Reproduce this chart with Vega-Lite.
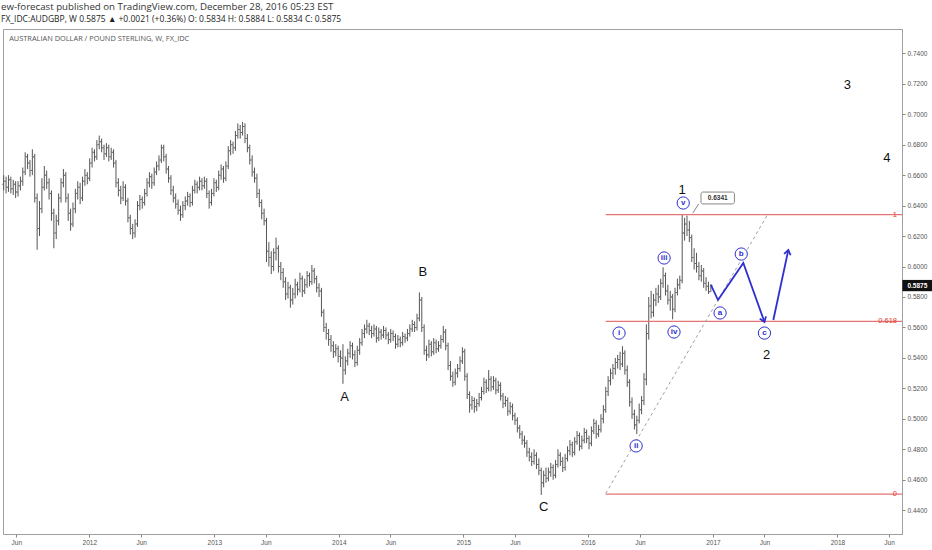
{
  "$schema": "https://vega.github.io/schema/vega-lite/v6.json",
  "width": 899,
  "height": 505,
  "autosize": {"type": "none"},
  "padding": {"left": 3, "top": 29, "right": 30, "bottom": 16},
  "background": "white",
  "title": {
    "text": "ew-forecast published on TradingView.com, December 28, 2016 05:23 EST",
    "subtitle": "FX_IDC:AUDGBP, W  0.5875 ▲ +0.0021 (+0.36%)  O: 0.5834  H: 0.5884  L: 0.5834  C: 0.5875",
    "anchor": "start",
    "frame": "group",
    "font": "Open Sans",
    "fontSize": 9.7,
    "fontWeight": "normal",
    "color": "#333333",
    "subtitleFont": "Open Sans",
    "subtitleFontSize": 8.5,
    "subtitleColor": "#222222",
    "subtitlePadding": 3,
    "offset": 6,
    "dx": -2
  },
  "config": {
    "view": {"stroke": "#a0a0a0"},
    "font": "Liberation Sans",
    "axis": {"labelOverlap": false, "labelFlush": false, "grid": false}
  },
  "datasets": {
    "bars": [
      {"d": "2011-04-25", "o": 0.654, "h": 0.660, "l": 0.650, "c": 0.656},
      {"d": "2011-05-02", "o": 0.656, "h": 0.659, "l": 0.648, "c": 0.652},
      {"d": "2011-05-09", "o": 0.652, "h": 0.660, "l": 0.649, "c": 0.657},
      {"d": "2011-05-16", "o": 0.657, "h": 0.659, "l": 0.648, "c": 0.651},
      {"d": "2011-05-23", "o": 0.651, "h": 0.657, "l": 0.647, "c": 0.654},
      {"d": "2011-05-30", "o": 0.654, "h": 0.656, "l": 0.645, "c": 0.649},
      {"d": "2011-06-06", "o": 0.649, "h": 0.656, "l": 0.646, "c": 0.653},
      {"d": "2011-06-13", "o": 0.653, "h": 0.659, "l": 0.650, "c": 0.656},
      {"d": "2011-06-20", "o": 0.656, "h": 0.665, "l": 0.653, "c": 0.662},
      {"d": "2011-06-27", "o": 0.662, "h": 0.675, "l": 0.660, "c": 0.672},
      {"d": "2011-07-04", "o": 0.672, "h": 0.674, "l": 0.664, "c": 0.668},
      {"d": "2011-07-11", "o": 0.668, "h": 0.670, "l": 0.659, "c": 0.663},
      {"d": "2011-07-18", "o": 0.663, "h": 0.677, "l": 0.660, "c": 0.672},
      {"d": "2011-07-25", "o": 0.672, "h": 0.674, "l": 0.642, "c": 0.645},
      {"d": "2011-08-01", "o": 0.645, "h": 0.648, "l": 0.611, "c": 0.625},
      {"d": "2011-08-08", "o": 0.625, "h": 0.643, "l": 0.620, "c": 0.638},
      {"d": "2011-08-15", "o": 0.638, "h": 0.658, "l": 0.635, "c": 0.652},
      {"d": "2011-08-22", "o": 0.652, "h": 0.666, "l": 0.650, "c": 0.660},
      {"d": "2011-08-29", "o": 0.660, "h": 0.663, "l": 0.651, "c": 0.655},
      {"d": "2011-09-05", "o": 0.655, "h": 0.658, "l": 0.644, "c": 0.648},
      {"d": "2011-09-12", "o": 0.648, "h": 0.650, "l": 0.630, "c": 0.635},
      {"d": "2011-09-19", "o": 0.635, "h": 0.638, "l": 0.612, "c": 0.622},
      {"d": "2011-09-26", "o": 0.622, "h": 0.634, "l": 0.618, "c": 0.630},
      {"d": "2011-10-03", "o": 0.630, "h": 0.648, "l": 0.627, "c": 0.645},
      {"d": "2011-10-10", "o": 0.645, "h": 0.658, "l": 0.642, "c": 0.655},
      {"d": "2011-10-17", "o": 0.655, "h": 0.664, "l": 0.652, "c": 0.660},
      {"d": "2011-10-24", "o": 0.660, "h": 0.662, "l": 0.642, "c": 0.645},
      {"d": "2011-10-31", "o": 0.645, "h": 0.648, "l": 0.630, "c": 0.635},
      {"d": "2011-11-07", "o": 0.635, "h": 0.638, "l": 0.6235, "c": 0.628},
      {"d": "2011-11-14", "o": 0.628, "h": 0.642, "l": 0.626, "c": 0.638},
      {"d": "2011-11-21", "o": 0.638, "h": 0.651, "l": 0.635, "c": 0.648},
      {"d": "2011-11-28", "o": 0.648, "h": 0.656, "l": 0.644, "c": 0.652},
      {"d": "2011-12-05", "o": 0.652, "h": 0.655, "l": 0.641, "c": 0.645},
      {"d": "2011-12-12", "o": 0.645, "h": 0.659, "l": 0.643, "c": 0.656},
      {"d": "2011-12-19", "o": 0.656, "h": 0.664, "l": 0.653, "c": 0.660},
      {"d": "2011-12-26", "o": 0.660, "h": 0.662, "l": 0.654, "c": 0.658},
      {"d": "2012-01-02", "o": 0.658, "h": 0.671, "l": 0.656, "c": 0.668},
      {"d": "2012-01-09", "o": 0.668, "h": 0.678, "l": 0.665, "c": 0.675},
      {"d": "2012-01-16", "o": 0.675, "h": 0.677, "l": 0.669, "c": 0.672},
      {"d": "2012-01-23", "o": 0.672, "h": 0.683, "l": 0.670, "c": 0.680},
      {"d": "2012-01-30", "o": 0.680, "h": 0.686, "l": 0.677, "c": 0.682},
      {"d": "2012-02-06", "o": 0.682, "h": 0.684, "l": 0.675, "c": 0.678},
      {"d": "2012-02-13", "o": 0.678, "h": 0.680, "l": 0.670, "c": 0.674},
      {"d": "2012-02-20", "o": 0.674, "h": 0.681, "l": 0.672, "c": 0.678},
      {"d": "2012-02-27", "o": 0.678, "h": 0.680, "l": 0.669, "c": 0.672},
      {"d": "2012-03-05", "o": 0.672, "h": 0.678, "l": 0.670, "c": 0.675},
      {"d": "2012-03-12", "o": 0.675, "h": 0.677, "l": 0.665, "c": 0.668},
      {"d": "2012-03-19", "o": 0.668, "h": 0.670, "l": 0.652, "c": 0.655},
      {"d": "2012-03-26", "o": 0.655, "h": 0.658, "l": 0.646, "c": 0.650},
      {"d": "2012-04-02", "o": 0.650, "h": 0.653, "l": 0.641, "c": 0.645},
      {"d": "2012-04-09", "o": 0.645, "h": 0.656, "l": 0.643, "c": 0.652},
      {"d": "2012-04-16", "o": 0.652, "h": 0.654, "l": 0.640, "c": 0.643},
      {"d": "2012-04-23", "o": 0.643, "h": 0.645, "l": 0.629, "c": 0.632},
      {"d": "2012-04-30", "o": 0.632, "h": 0.634, "l": 0.621, "c": 0.625},
      {"d": "2012-05-07", "o": 0.625, "h": 0.628, "l": 0.618, "c": 0.622},
      {"d": "2012-05-14", "o": 0.622, "h": 0.631, "l": 0.619, "c": 0.628},
      {"d": "2012-05-21", "o": 0.628, "h": 0.643, "l": 0.626, "c": 0.640},
      {"d": "2012-05-28", "o": 0.640, "h": 0.647, "l": 0.637, "c": 0.644},
      {"d": "2012-06-04", "o": 0.644, "h": 0.646, "l": 0.638, "c": 0.642},
      {"d": "2012-06-11", "o": 0.642, "h": 0.651, "l": 0.640, "c": 0.648},
      {"d": "2012-06-18", "o": 0.648, "h": 0.658, "l": 0.646, "c": 0.655},
      {"d": "2012-06-25", "o": 0.655, "h": 0.662, "l": 0.652, "c": 0.659},
      {"d": "2012-07-02", "o": 0.659, "h": 0.661, "l": 0.651, "c": 0.655},
      {"d": "2012-07-09", "o": 0.655, "h": 0.665, "l": 0.653, "c": 0.662},
      {"d": "2012-07-16", "o": 0.662, "h": 0.669, "l": 0.660, "c": 0.666},
      {"d": "2012-07-23", "o": 0.666, "h": 0.673, "l": 0.663, "c": 0.670},
      {"d": "2012-07-30", "o": 0.670, "h": 0.680, "l": 0.668, "c": 0.678},
      {"d": "2012-08-06", "o": 0.678, "h": 0.680, "l": 0.669, "c": 0.672},
      {"d": "2012-08-13", "o": 0.672, "h": 0.674, "l": 0.661, "c": 0.664},
      {"d": "2012-08-20", "o": 0.664, "h": 0.666, "l": 0.655, "c": 0.658},
      {"d": "2012-08-27", "o": 0.658, "h": 0.660, "l": 0.647, "c": 0.650},
      {"d": "2012-09-03", "o": 0.650, "h": 0.653, "l": 0.642, "c": 0.645},
      {"d": "2012-09-10", "o": 0.645, "h": 0.648, "l": 0.638, "c": 0.641},
      {"d": "2012-09-17", "o": 0.641, "h": 0.644, "l": 0.634, "c": 0.637},
      {"d": "2012-09-24", "o": 0.637, "h": 0.640, "l": 0.630, "c": 0.634},
      {"d": "2012-10-01", "o": 0.634, "h": 0.643, "l": 0.632, "c": 0.640},
      {"d": "2012-10-08", "o": 0.640, "h": 0.646, "l": 0.637, "c": 0.643},
      {"d": "2012-10-15", "o": 0.643, "h": 0.649, "l": 0.640, "c": 0.646},
      {"d": "2012-10-22", "o": 0.646, "h": 0.648, "l": 0.639, "c": 0.642},
      {"d": "2012-10-29", "o": 0.642, "h": 0.653, "l": 0.640, "c": 0.650},
      {"d": "2012-11-05", "o": 0.650, "h": 0.657, "l": 0.648, "c": 0.654},
      {"d": "2012-11-12", "o": 0.654, "h": 0.656, "l": 0.648, "c": 0.652},
      {"d": "2012-11-19", "o": 0.652, "h": 0.659, "l": 0.650, "c": 0.656},
      {"d": "2012-11-26", "o": 0.656, "h": 0.658, "l": 0.650, "c": 0.653},
      {"d": "2012-12-03", "o": 0.653, "h": 0.659, "l": 0.651, "c": 0.656},
      {"d": "2012-12-10", "o": 0.656, "h": 0.658, "l": 0.645, "c": 0.648},
      {"d": "2012-12-17", "o": 0.648, "h": 0.650, "l": 0.638, "c": 0.642},
      {"d": "2012-12-24", "o": 0.642, "h": 0.651, "l": 0.640, "c": 0.648},
      {"d": "2012-12-31", "o": 0.648, "h": 0.658, "l": 0.646, "c": 0.655},
      {"d": "2013-01-07", "o": 0.655, "h": 0.657, "l": 0.649, "c": 0.652},
      {"d": "2013-01-14", "o": 0.652, "h": 0.663, "l": 0.650, "c": 0.660},
      {"d": "2013-01-21", "o": 0.660, "h": 0.667, "l": 0.657, "c": 0.664},
      {"d": "2013-01-28", "o": 0.664, "h": 0.666, "l": 0.655, "c": 0.658},
      {"d": "2013-02-04", "o": 0.658, "h": 0.669, "l": 0.656, "c": 0.666},
      {"d": "2013-02-11", "o": 0.666, "h": 0.679, "l": 0.664, "c": 0.676},
      {"d": "2013-02-18", "o": 0.676, "h": 0.683, "l": 0.673, "c": 0.680},
      {"d": "2013-02-25", "o": 0.680, "h": 0.682, "l": 0.674, "c": 0.678},
      {"d": "2013-03-04", "o": 0.678, "h": 0.689, "l": 0.676, "c": 0.686},
      {"d": "2013-03-11", "o": 0.686, "h": 0.694, "l": 0.684, "c": 0.690},
      {"d": "2013-03-18", "o": 0.690, "h": 0.693, "l": 0.684, "c": 0.688},
      {"d": "2013-03-25", "o": 0.688, "h": 0.695, "l": 0.686, "c": 0.692},
      {"d": "2013-04-01", "o": 0.692, "h": 0.694, "l": 0.681, "c": 0.684},
      {"d": "2013-04-08", "o": 0.684, "h": 0.687, "l": 0.675, "c": 0.678},
      {"d": "2013-04-15", "o": 0.678, "h": 0.680, "l": 0.667, "c": 0.670},
      {"d": "2013-04-22", "o": 0.670, "h": 0.673, "l": 0.659, "c": 0.662},
      {"d": "2013-04-29", "o": 0.662, "h": 0.665, "l": 0.655, "c": 0.658},
      {"d": "2013-05-06", "o": 0.658, "h": 0.661, "l": 0.645, "c": 0.648},
      {"d": "2013-05-13", "o": 0.648, "h": 0.651, "l": 0.639, "c": 0.642},
      {"d": "2013-05-20", "o": 0.642, "h": 0.644, "l": 0.631, "c": 0.635},
      {"d": "2013-05-27", "o": 0.635, "h": 0.638, "l": 0.627, "c": 0.630},
      {"d": "2013-06-03", "o": 0.630, "h": 0.632, "l": 0.603, "c": 0.610},
      {"d": "2013-06-10", "o": 0.610, "h": 0.616, "l": 0.600, "c": 0.606},
      {"d": "2013-06-17", "o": 0.606, "h": 0.610, "l": 0.595, "c": 0.600},
      {"d": "2013-06-24", "o": 0.600, "h": 0.612, "l": 0.597, "c": 0.609},
      {"d": "2013-07-01", "o": 0.609, "h": 0.619, "l": 0.604, "c": 0.612},
      {"d": "2013-07-08", "o": 0.612, "h": 0.614, "l": 0.596, "c": 0.600},
      {"d": "2013-07-15", "o": 0.600, "h": 0.603, "l": 0.591, "c": 0.596},
      {"d": "2013-07-22", "o": 0.596, "h": 0.599, "l": 0.586, "c": 0.590},
      {"d": "2013-07-29", "o": 0.590, "h": 0.593, "l": 0.578, "c": 0.582},
      {"d": "2013-08-05", "o": 0.582, "h": 0.590, "l": 0.579, "c": 0.586},
      {"d": "2013-08-12", "o": 0.586, "h": 0.588, "l": 0.573, "c": 0.578},
      {"d": "2013-08-19", "o": 0.578, "h": 0.586, "l": 0.575, "c": 0.582},
      {"d": "2013-08-26", "o": 0.582, "h": 0.592, "l": 0.579, "c": 0.588},
      {"d": "2013-09-02", "o": 0.588, "h": 0.590, "l": 0.581, "c": 0.585},
      {"d": "2013-09-09", "o": 0.585, "h": 0.596, "l": 0.583, "c": 0.592},
      {"d": "2013-09-16", "o": 0.592, "h": 0.594, "l": 0.580, "c": 0.584},
      {"d": "2013-09-23", "o": 0.584, "h": 0.592, "l": 0.582, "c": 0.588},
      {"d": "2013-09-30", "o": 0.588, "h": 0.597, "l": 0.586, "c": 0.594},
      {"d": "2013-10-07", "o": 0.594, "h": 0.596, "l": 0.587, "c": 0.590},
      {"d": "2013-10-14", "o": 0.590, "h": 0.601, "l": 0.588, "c": 0.597},
      {"d": "2013-10-21", "o": 0.597, "h": 0.599, "l": 0.589, "c": 0.592},
      {"d": "2013-10-28", "o": 0.592, "h": 0.594, "l": 0.583, "c": 0.586},
      {"d": "2013-11-04", "o": 0.586, "h": 0.589, "l": 0.580, "c": 0.584},
      {"d": "2013-11-11", "o": 0.584, "h": 0.586, "l": 0.567, "c": 0.570},
      {"d": "2013-11-18", "o": 0.570, "h": 0.572, "l": 0.557, "c": 0.560},
      {"d": "2013-11-25", "o": 0.560, "h": 0.563, "l": 0.552, "c": 0.556},
      {"d": "2013-12-02", "o": 0.556, "h": 0.559, "l": 0.548, "c": 0.552},
      {"d": "2013-12-09", "o": 0.552, "h": 0.555, "l": 0.544, "c": 0.548},
      {"d": "2013-12-16", "o": 0.548, "h": 0.551, "l": 0.540, "c": 0.544},
      {"d": "2013-12-23", "o": 0.544, "h": 0.549, "l": 0.541, "c": 0.546},
      {"d": "2013-12-30", "o": 0.546, "h": 0.548, "l": 0.537, "c": 0.541},
      {"d": "2014-01-06", "o": 0.541, "h": 0.545, "l": 0.534, "c": 0.540},
      {"d": "2014-01-13", "o": 0.540, "h": 0.549, "l": 0.523, "c": 0.532},
      {"d": "2014-01-20", "o": 0.532, "h": 0.541, "l": 0.529, "c": 0.538},
      {"d": "2014-01-27", "o": 0.538, "h": 0.546, "l": 0.535, "c": 0.543},
      {"d": "2014-02-03", "o": 0.543, "h": 0.551, "l": 0.540, "c": 0.548},
      {"d": "2014-02-10", "o": 0.548, "h": 0.550, "l": 0.539, "c": 0.542},
      {"d": "2014-02-17", "o": 0.542, "h": 0.545, "l": 0.534, "c": 0.537},
      {"d": "2014-02-24", "o": 0.537, "h": 0.548, "l": 0.535, "c": 0.545},
      {"d": "2014-03-03", "o": 0.545, "h": 0.553, "l": 0.542, "c": 0.550},
      {"d": "2014-03-10", "o": 0.550, "h": 0.559, "l": 0.548, "c": 0.556},
      {"d": "2014-03-17", "o": 0.556, "h": 0.562, "l": 0.553, "c": 0.559},
      {"d": "2014-03-24", "o": 0.559, "h": 0.565, "l": 0.556, "c": 0.561},
      {"d": "2014-03-31", "o": 0.561, "h": 0.563, "l": 0.555, "c": 0.558},
      {"d": "2014-04-07", "o": 0.558, "h": 0.561, "l": 0.553, "c": 0.556},
      {"d": "2014-04-14", "o": 0.556, "h": 0.562, "l": 0.554, "c": 0.559},
      {"d": "2014-04-21", "o": 0.559, "h": 0.561, "l": 0.550, "c": 0.553},
      {"d": "2014-04-28", "o": 0.553, "h": 0.560, "l": 0.551, "c": 0.557},
      {"d": "2014-05-05", "o": 0.557, "h": 0.559, "l": 0.552, "c": 0.555},
      {"d": "2014-05-12", "o": 0.555, "h": 0.561, "l": 0.553, "c": 0.558},
      {"d": "2014-05-19", "o": 0.558, "h": 0.560, "l": 0.552, "c": 0.555},
      {"d": "2014-05-26", "o": 0.555, "h": 0.557, "l": 0.549, "c": 0.552},
      {"d": "2014-06-02", "o": 0.552, "h": 0.559, "l": 0.550, "c": 0.556},
      {"d": "2014-06-09", "o": 0.556, "h": 0.558, "l": 0.551, "c": 0.554},
      {"d": "2014-06-16", "o": 0.554, "h": 0.556, "l": 0.546, "c": 0.549},
      {"d": "2014-06-23", "o": 0.549, "h": 0.555, "l": 0.547, "c": 0.552},
      {"d": "2014-06-30", "o": 0.552, "h": 0.554, "l": 0.547, "c": 0.550},
      {"d": "2014-07-07", "o": 0.550, "h": 0.557, "l": 0.548, "c": 0.554},
      {"d": "2014-07-14", "o": 0.554, "h": 0.556, "l": 0.550, "c": 0.553},
      {"d": "2014-07-21", "o": 0.553, "h": 0.559, "l": 0.551, "c": 0.556},
      {"d": "2014-07-28", "o": 0.556, "h": 0.562, "l": 0.554, "c": 0.559},
      {"d": "2014-08-04", "o": 0.559, "h": 0.565, "l": 0.557, "c": 0.562},
      {"d": "2014-08-11", "o": 0.562, "h": 0.564, "l": 0.557, "c": 0.560},
      {"d": "2014-08-18", "o": 0.560, "h": 0.569, "l": 0.558, "c": 0.566},
      {"d": "2014-08-25", "o": 0.566, "h": 0.583, "l": 0.564, "c": 0.578},
      {"d": "2014-09-01", "o": 0.578, "h": 0.580, "l": 0.557, "c": 0.560},
      {"d": "2014-09-08", "o": 0.560, "h": 0.562, "l": 0.542, "c": 0.545},
      {"d": "2014-09-15", "o": 0.545, "h": 0.548, "l": 0.538, "c": 0.542},
      {"d": "2014-09-22", "o": 0.542, "h": 0.552, "l": 0.540, "c": 0.549},
      {"d": "2014-09-29", "o": 0.549, "h": 0.551, "l": 0.541, "c": 0.544},
      {"d": "2014-10-06", "o": 0.544, "h": 0.553, "l": 0.542, "c": 0.550},
      {"d": "2014-10-13", "o": 0.550, "h": 0.552, "l": 0.543, "c": 0.546},
      {"d": "2014-10-20", "o": 0.546, "h": 0.551, "l": 0.544, "c": 0.548},
      {"d": "2014-10-27", "o": 0.548, "h": 0.555, "l": 0.546, "c": 0.552},
      {"d": "2014-11-03", "o": 0.552, "h": 0.561, "l": 0.550, "c": 0.557},
      {"d": "2014-11-10", "o": 0.557, "h": 0.559, "l": 0.545, "c": 0.548},
      {"d": "2014-11-17", "o": 0.548, "h": 0.550, "l": 0.532, "c": 0.535},
      {"d": "2014-11-24", "o": 0.535, "h": 0.538, "l": 0.525, "c": 0.528},
      {"d": "2014-12-01", "o": 0.528, "h": 0.531, "l": 0.521, "c": 0.524},
      {"d": "2014-12-08", "o": 0.524, "h": 0.533, "l": 0.522, "c": 0.530},
      {"d": "2014-12-15", "o": 0.530, "h": 0.536, "l": 0.527, "c": 0.533},
      {"d": "2014-12-22", "o": 0.533, "h": 0.541, "l": 0.531, "c": 0.538},
      {"d": "2014-12-29", "o": 0.538, "h": 0.547, "l": 0.536, "c": 0.544},
      {"d": "2015-01-05", "o": 0.544, "h": 0.546, "l": 0.525, "c": 0.528},
      {"d": "2015-01-12", "o": 0.528, "h": 0.530, "l": 0.513, "c": 0.516},
      {"d": "2015-01-19", "o": 0.516, "h": 0.518, "l": 0.504, "c": 0.509},
      {"d": "2015-01-26", "o": 0.509, "h": 0.515, "l": 0.506, "c": 0.512},
      {"d": "2015-02-02", "o": 0.512, "h": 0.514, "l": 0.504, "c": 0.508},
      {"d": "2015-02-09", "o": 0.508, "h": 0.513, "l": 0.505, "c": 0.510},
      {"d": "2015-02-16", "o": 0.510, "h": 0.517, "l": 0.508, "c": 0.514},
      {"d": "2015-02-23", "o": 0.514, "h": 0.521, "l": 0.512, "c": 0.518},
      {"d": "2015-03-02", "o": 0.518, "h": 0.527, "l": 0.516, "c": 0.524},
      {"d": "2015-03-09", "o": 0.524, "h": 0.526, "l": 0.517, "c": 0.520},
      {"d": "2015-03-16", "o": 0.520, "h": 0.532, "l": 0.518, "c": 0.526},
      {"d": "2015-03-23", "o": 0.526, "h": 0.528, "l": 0.518, "c": 0.521},
      {"d": "2015-03-30", "o": 0.521, "h": 0.528, "l": 0.519, "c": 0.525},
      {"d": "2015-04-06", "o": 0.525, "h": 0.527, "l": 0.516, "c": 0.519},
      {"d": "2015-04-13", "o": 0.519, "h": 0.525, "l": 0.517, "c": 0.522},
      {"d": "2015-04-20", "o": 0.522, "h": 0.524, "l": 0.512, "c": 0.515},
      {"d": "2015-04-27", "o": 0.515, "h": 0.517, "l": 0.507, "c": 0.510},
      {"d": "2015-05-04", "o": 0.510, "h": 0.515, "l": 0.508, "c": 0.512},
      {"d": "2015-05-11", "o": 0.512, "h": 0.514, "l": 0.502, "c": 0.505},
      {"d": "2015-05-18", "o": 0.505, "h": 0.511, "l": 0.503, "c": 0.508},
      {"d": "2015-05-25", "o": 0.508, "h": 0.510, "l": 0.499, "c": 0.502},
      {"d": "2015-06-01", "o": 0.502, "h": 0.504, "l": 0.496, "c": 0.499},
      {"d": "2015-06-08", "o": 0.499, "h": 0.501, "l": 0.491, "c": 0.494},
      {"d": "2015-06-15", "o": 0.494, "h": 0.496, "l": 0.487, "c": 0.490},
      {"d": "2015-06-22", "o": 0.490, "h": 0.492, "l": 0.483, "c": 0.486},
      {"d": "2015-06-29", "o": 0.486, "h": 0.489, "l": 0.481, "c": 0.484},
      {"d": "2015-07-06", "o": 0.484, "h": 0.486, "l": 0.475, "c": 0.478},
      {"d": "2015-07-13", "o": 0.478, "h": 0.481, "l": 0.472, "c": 0.475},
      {"d": "2015-07-20", "o": 0.475, "h": 0.478, "l": 0.469, "c": 0.472},
      {"d": "2015-07-27", "o": 0.472, "h": 0.480, "l": 0.470, "c": 0.476},
      {"d": "2015-08-03", "o": 0.476, "h": 0.478, "l": 0.467, "c": 0.470},
      {"d": "2015-08-10", "o": 0.470, "h": 0.474, "l": 0.463, "c": 0.466},
      {"d": "2015-08-17", "o": 0.466, "h": 0.468, "l": 0.450, "c": 0.458},
      {"d": "2015-08-24", "o": 0.458, "h": 0.466, "l": 0.455, "c": 0.463},
      {"d": "2015-08-31", "o": 0.463, "h": 0.468, "l": 0.458, "c": 0.461},
      {"d": "2015-09-07", "o": 0.461, "h": 0.468, "l": 0.459, "c": 0.465},
      {"d": "2015-09-14", "o": 0.465, "h": 0.471, "l": 0.462, "c": 0.468},
      {"d": "2015-09-21", "o": 0.468, "h": 0.470, "l": 0.460, "c": 0.463},
      {"d": "2015-09-28", "o": 0.463, "h": 0.473, "l": 0.461, "c": 0.470},
      {"d": "2015-10-05", "o": 0.470, "h": 0.480, "l": 0.468, "c": 0.476},
      {"d": "2015-10-12", "o": 0.476, "h": 0.478, "l": 0.469, "c": 0.472},
      {"d": "2015-10-19", "o": 0.472, "h": 0.475, "l": 0.465, "c": 0.468},
      {"d": "2015-10-26", "o": 0.468, "h": 0.477, "l": 0.466, "c": 0.474},
      {"d": "2015-11-02", "o": 0.474, "h": 0.482, "l": 0.472, "c": 0.479},
      {"d": "2015-11-09", "o": 0.479, "h": 0.486, "l": 0.476, "c": 0.483},
      {"d": "2015-11-16", "o": 0.483, "h": 0.485, "l": 0.475, "c": 0.478},
      {"d": "2015-11-23", "o": 0.478, "h": 0.488, "l": 0.476, "c": 0.485},
      {"d": "2015-11-30", "o": 0.485, "h": 0.492, "l": 0.483, "c": 0.489},
      {"d": "2015-12-07", "o": 0.489, "h": 0.491, "l": 0.479, "c": 0.482},
      {"d": "2015-12-14", "o": 0.482, "h": 0.489, "l": 0.480, "c": 0.486},
      {"d": "2015-12-21", "o": 0.486, "h": 0.494, "l": 0.484, "c": 0.491},
      {"d": "2015-12-28", "o": 0.491, "h": 0.493, "l": 0.484, "c": 0.487},
      {"d": "2016-01-04", "o": 0.487, "h": 0.489, "l": 0.480, "c": 0.484},
      {"d": "2016-01-11", "o": 0.484, "h": 0.495, "l": 0.482, "c": 0.492},
      {"d": "2016-01-18", "o": 0.492, "h": 0.500, "l": 0.490, "c": 0.497},
      {"d": "2016-01-25", "o": 0.497, "h": 0.499, "l": 0.487, "c": 0.490},
      {"d": "2016-02-01", "o": 0.490, "h": 0.496, "l": 0.488, "c": 0.493},
      {"d": "2016-02-08", "o": 0.493, "h": 0.503, "l": 0.491, "c": 0.500},
      {"d": "2016-02-15", "o": 0.500, "h": 0.509, "l": 0.497, "c": 0.506},
      {"d": "2016-02-22", "o": 0.506, "h": 0.521, "l": 0.504, "c": 0.518},
      {"d": "2016-02-29", "o": 0.518, "h": 0.528, "l": 0.515, "c": 0.525},
      {"d": "2016-03-07", "o": 0.525, "h": 0.533, "l": 0.522, "c": 0.530},
      {"d": "2016-03-14", "o": 0.530, "h": 0.536, "l": 0.526, "c": 0.533},
      {"d": "2016-03-21", "o": 0.533, "h": 0.540, "l": 0.529, "c": 0.537},
      {"d": "2016-03-28", "o": 0.537, "h": 0.542, "l": 0.533, "c": 0.539},
      {"d": "2016-04-04", "o": 0.539, "h": 0.544, "l": 0.532, "c": 0.536},
      {"d": "2016-04-11", "o": 0.536, "h": 0.5477, "l": 0.534, "c": 0.543},
      {"d": "2016-04-18", "o": 0.543, "h": 0.545, "l": 0.529, "c": 0.532},
      {"d": "2016-04-25", "o": 0.532, "h": 0.535, "l": 0.521, "c": 0.524},
      {"d": "2016-05-02", "o": 0.524, "h": 0.526, "l": 0.508, "c": 0.511},
      {"d": "2016-05-09", "o": 0.511, "h": 0.514, "l": 0.500, "c": 0.503},
      {"d": "2016-05-16", "o": 0.503, "h": 0.506, "l": 0.493, "c": 0.496},
      {"d": "2016-05-23", "o": 0.496, "h": 0.502, "l": 0.490, "c": 0.499},
      {"d": "2016-05-30", "o": 0.499, "h": 0.510, "l": 0.497, "c": 0.506},
      {"d": "2016-06-06", "o": 0.506, "h": 0.515, "l": 0.503, "c": 0.512},
      {"d": "2016-06-13", "o": 0.512, "h": 0.530, "l": 0.509, "c": 0.526},
      {"d": "2016-06-20", "o": 0.526, "h": 0.562, "l": 0.522, "c": 0.556},
      {"d": "2016-06-27", "o": 0.556, "h": 0.580, "l": 0.552, "c": 0.574},
      {"d": "2016-07-04", "o": 0.574, "h": 0.584, "l": 0.566, "c": 0.570},
      {"d": "2016-07-11", "o": 0.570, "h": 0.582, "l": 0.567, "c": 0.578},
      {"d": "2016-07-18", "o": 0.578, "h": 0.586, "l": 0.574, "c": 0.582},
      {"d": "2016-07-25", "o": 0.582, "h": 0.588, "l": 0.576, "c": 0.580},
      {"d": "2016-08-01", "o": 0.580, "h": 0.592, "l": 0.578, "c": 0.589},
      {"d": "2016-08-08", "o": 0.589, "h": 0.5995, "l": 0.586, "c": 0.594},
      {"d": "2016-08-15", "o": 0.594, "h": 0.596, "l": 0.581, "c": 0.584},
      {"d": "2016-08-22", "o": 0.584, "h": 0.588, "l": 0.575, "c": 0.578},
      {"d": "2016-08-29", "o": 0.578, "h": 0.584, "l": 0.571, "c": 0.580},
      {"d": "2016-09-05", "o": 0.580, "h": 0.582, "l": 0.5653, "c": 0.572},
      {"d": "2016-09-12", "o": 0.572, "h": 0.586, "l": 0.570, "c": 0.583},
      {"d": "2016-09-19", "o": 0.583, "h": 0.592, "l": 0.581, "c": 0.588},
      {"d": "2016-09-26", "o": 0.588, "h": 0.594, "l": 0.585, "c": 0.591},
      {"d": "2016-10-03", "o": 0.591, "h": 0.6341, "l": 0.589, "c": 0.622},
      {"d": "2016-10-10", "o": 0.622, "h": 0.632, "l": 0.617, "c": 0.628},
      {"d": "2016-10-17", "o": 0.628, "h": 0.6335, "l": 0.620, "c": 0.624},
      {"d": "2016-10-24", "o": 0.624, "h": 0.630, "l": 0.616, "c": 0.619},
      {"d": "2016-10-31", "o": 0.619, "h": 0.621, "l": 0.603, "c": 0.606},
      {"d": "2016-11-07", "o": 0.606, "h": 0.612, "l": 0.598, "c": 0.602},
      {"d": "2016-11-14", "o": 0.602, "h": 0.609, "l": 0.596, "c": 0.600},
      {"d": "2016-11-21", "o": 0.600, "h": 0.603, "l": 0.591, "c": 0.594},
      {"d": "2016-11-28", "o": 0.594, "h": 0.601, "l": 0.590, "c": 0.597},
      {"d": "2016-12-05", "o": 0.597, "h": 0.599, "l": 0.586, "c": 0.589},
      {"d": "2016-12-12", "o": 0.589, "h": 0.593, "l": 0.584, "c": 0.587},
      {"d": "2016-12-19", "o": 0.587, "h": 0.590, "l": 0.582, "c": 0.5834},
      {"d": "2016-12-26", "o": 0.5834, "h": 0.5884, "l": 0.5834, "c": 0.5875}
    ],
    "fib": [
      {"d": "2016-02-22", "d2": "2018-07-09", "p": 0.6341, "t": "1"},
      {"d": "2016-02-22", "d2": "2018-07-09", "p": 0.5640, "t": "0.618"},
      {"d": "2016-02-22", "d2": "2018-07-09", "p": 0.4505, "t": "0"}
    ],
    "trend": [
      {"d": "2016-02-22", "p": 0.4510},
      {"d": "2017-06-11", "p": 0.6345}
    ],
    "proj": [
      {"d": "2016-12-26", "p": 0.5880, "s": "abc"},
      {"d": "2017-01-16", "p": 0.5780, "s": "abc"},
      {"d": "2017-03-31", "p": 0.6023, "s": "abc"},
      {"d": "2017-06-01", "p": 0.5636, "s": "abc"},
      {"d": "2017-06-27", "p": 0.5649, "s": "up"},
      {"d": "2017-08-10", "p": 0.6109, "s": "up"}
    ],
    "heads": [
      {"d": "2017-06-01", "p": 0.5636, "k": "down"},
      {"d": "2017-08-10", "p": 0.6109, "k": "up"}
    ],
    "waves": [
      {"d": "2016-04-01", "p": 0.5563, "t": "i"},
      {"d": "2016-05-21", "p": 0.4822, "t": "ii"},
      {"d": "2016-08-11", "p": 0.6056, "t": "iii"},
      {"d": "2016-09-09", "p": 0.5570, "t": "iv"},
      {"d": "2016-10-06", "p": 0.6417, "t": "v"},
      {"d": "2017-01-22", "p": 0.5695, "t": "a"},
      {"d": "2017-03-25", "p": 0.6082, "t": "b"},
      {"d": "2017-06-01", "p": 0.5563, "t": "c"}
    ],
    "counts": [
      {"d": "2016-10-03", "p": 0.6502, "t": "1"},
      {"d": "2017-06-07", "p": 0.5419, "t": "2"},
      {"d": "2018-01-30", "p": 0.7192, "t": "3"},
      {"d": "2018-05-26", "p": 0.6713, "t": "4"},
      {"d": "2014-01-18", "p": 0.5143, "t": "A"},
      {"d": "2014-09-04", "p": 0.5964, "t": "B"},
      {"d": "2015-08-24", "p": 0.4421, "t": "C"}
    ]
  },
  "layer": [
    {
      "data": {"name": "bars"},
      "mark": {"type": "rule", "color": "#555555", "strokeWidth": 1},
      "encoding": {
        "x": {
          "field": "d",
          "type": "temporal",
          "title": null,
          "scale": {"domain": [{"year": 2011, "month": 4, "date": 23}, {"year": 2018, "month": 7, "date": 9}]},
          "axis": {
            "values": [
              {"year": 2011, "month": 6, "date": 1},
              {"year": 2012, "month": 1, "date": 1},
              {"year": 2012, "month": 6, "date": 1},
              {"year": 2013, "month": 1, "date": 1},
              {"year": 2013, "month": 6, "date": 1},
              {"year": 2014, "month": 1, "date": 1},
              {"year": 2014, "month": 6, "date": 1},
              {"year": 2015, "month": 1, "date": 1},
              {"year": 2015, "month": 6, "date": 1},
              {"year": 2016, "month": 1, "date": 1},
              {"year": 2016, "month": 6, "date": 1},
              {"year": 2017, "month": 1, "date": 1},
              {"year": 2017, "month": 6, "date": 1},
              {"year": 2018, "month": 1, "date": 1},
              {"year": 2018, "month": 6, "date": 1}
            ],
            "tickCount": 40,
            "labelExpr": "month(datum.value) == 0 ? timeFormat(datum.value, '%Y') : 'Jun'",
            "labelFontSize": 6.5,
            "labelColor": "#555555",
            "labelOverlap": false,
            "labelFlush": false,
            "labelPadding": 2,
            "tickSize": 3,
            "tickColor": "#888888",
            "domainColor": "#a0a0a0",
            "grid": false
          }
        },
        "y": {
          "field": "l",
          "type": "quantitative",
          "title": null,
          "scale": {"domain": [0.42437, 0.75596], "nice": false, "zero": false},
          "axis": {
            "orient": "right",
            "values": [0.44, 0.46, 0.48, 0.5, 0.52, 0.54, 0.56, 0.58, 0.6, 0.62, 0.64, 0.66, 0.68, 0.7, 0.72, 0.74],
            "tickCount": 40,
            "format": ".4f",
            "labelFontSize": 6.5,
            "labelColor": "#555555",
            "labelOverlap": false,
            "labelFlush": false,
            "labelPadding": 2,
            "tickSize": 3,
            "tickColor": "#888888",
            "domainColor": "#a0a0a0",
            "grid": false
          }
        },
        "y2": {"field": "h"}
      }
    },
    {
      "data": {"name": "bars"},
      "mark": {"type": "tick", "orient": "horizontal", "size": 1.3, "thickness": 1, "xOffset": -1.1, "color": "#555555"},
      "encoding": {
        "x": {"field": "d", "type": "temporal", "title": null},
        "y": {"field": "o", "type": "quantitative", "title": null}
      }
    },
    {
      "data": {"name": "bars"},
      "mark": {"type": "tick", "orient": "horizontal", "size": 1.3, "thickness": 1, "xOffset": 1.1, "color": "#555555"},
      "encoding": {
        "x": {"field": "d", "type": "temporal", "title": null},
        "y": {"field": "c", "type": "quantitative", "title": null}
      }
    },
    {
      "data": {"name": "fib"},
      "mark": {"type": "rule", "color": "#e57373", "strokeWidth": 1.2},
      "encoding": {
        "x": {"field": "d", "type": "temporal", "title": null},
        "x2": {"field": "d2"},
        "y": {"field": "p", "type": "quantitative", "title": null}
      }
    },
    {
      "data": {"name": "fib"},
      "mark": {"type": "text", "align": "right", "baseline": "middle", "dx": -5, "fontSize": 7.5, "color": "#e53935"},
      "encoding": {
        "x": {"field": "d2", "type": "temporal", "title": null},
        "y": {"field": "p", "type": "quantitative", "title": null},
        "text": {"field": "t"}
      }
    },
    {
      "data": {"name": "trend"},
      "mark": {"type": "line", "color": "#a0a0a0", "strokeWidth": 1, "strokeDash": [3, 3]},
      "encoding": {
        "x": {"field": "d", "type": "temporal", "title": null},
        "y": {"field": "p", "type": "quantitative", "title": null}
      }
    },
    {
      "data": {"name": "proj"},
      "mark": {"type": "line", "color": "#2f2fcf", "strokeWidth": 1.8},
      "encoding": {
        "x": {"field": "d", "type": "temporal", "title": null},
        "y": {"field": "p", "type": "quantitative", "title": null},
        "detail": {"field": "s"}
      }
    },
    {
      "data": {"name": "heads"},
      "transform": [{"filter": "datum.k == 'down'"}],
      "mark": {"type": "point", "shape": "M -0.7 1 L 0 0 L 0.7 1", "size": 90, "filled": false, "stroke": "#2f2fcf", "strokeWidth": 1.8, "angle": 160, "opacity": 1},
      "encoding": {
        "x": {"field": "d", "type": "temporal", "title": null},
        "y": {"field": "p", "type": "quantitative", "title": null}
      }
    },
    {
      "data": {"name": "heads"},
      "transform": [{"filter": "datum.k == 'up'"}],
      "mark": {"type": "point", "shape": "M -0.7 1 L 0 0 L 0.7 1", "size": 90, "filled": false, "stroke": "#2f2fcf", "strokeWidth": 1.8, "angle": 12, "opacity": 1},
      "encoding": {
        "x": {"field": "d", "type": "temporal", "title": null},
        "y": {"field": "p", "type": "quantitative", "title": null}
      }
    },
    {
      "data": {"name": "waves"},
      "mark": {"type": "point", "shape": "circle", "size": 150, "filled": true, "fill": "white", "stroke": "#2f2fcf", "strokeWidth": 1, "opacity": 1},
      "encoding": {
        "x": {"field": "d", "type": "temporal", "title": null},
        "y": {"field": "p", "type": "quantitative", "title": null}
      }
    },
    {
      "data": {"name": "waves"},
      "mark": {"type": "text", "align": "center", "baseline": "middle", "fontSize": 8, "fontWeight": "bold", "color": "#2f2fcf"},
      "encoding": {
        "x": {"field": "d", "type": "temporal", "title": null},
        "y": {"field": "p", "type": "quantitative", "title": null},
        "text": {"field": "t"}
      }
    },
    {
      "data": {"name": "counts"},
      "mark": {"type": "text", "align": "center", "baseline": "middle", "fontSize": 13, "color": "#111111"},
      "encoding": {
        "x": {"field": "d", "type": "temporal", "title": null},
        "y": {"field": "p", "type": "quantitative", "title": null},
        "text": {"field": "t"}
      }
    },
    {
      "data": {"values": [{"d": "2016-11-20", "d2": "2016-11-03", "p": 0.6411, "p2": 0.6350}]},
      "mark": {"type": "rule", "color": "#888888", "strokeWidth": 1},
      "encoding": {
        "x": {"field": "d", "type": "temporal", "title": null},
        "x2": {"field": "d2"},
        "y": {"field": "p", "type": "quantitative", "title": null},
        "y2": {"field": "p2"}
      }
    },
    {
      "data": {"values": [{"d": "2016-11-27", "d2": "2017-03-05", "p": 0.6489, "p2": 0.6411}]},
      "mark": {"type": "rect", "fill": "white", "stroke": "#888888", "strokeWidth": 1, "cornerRadius": 2},
      "encoding": {
        "x": {"field": "d", "type": "temporal", "title": null},
        "x2": {"field": "d2"},
        "y": {"field": "p", "type": "quantitative", "title": null},
        "y2": {"field": "p2"}
      }
    },
    {
      "data": {"values": [{"d": "2017-01-15", "p": 0.6450, "t": "0.6341"}]},
      "mark": {"type": "text", "align": "center", "baseline": "middle", "fontSize": 6.5, "fontWeight": "bold", "color": "#333333"},
      "encoding": {
        "x": {"field": "d", "type": "temporal", "title": null},
        "y": {"field": "p", "type": "quantitative", "title": null},
        "text": {"field": "t"}
      }
    },
    {
      "data": {"values": [{"d": "2018-07-10", "d2": "2018-10-05", "p": 0.5912, "p2": 0.5838}]},
      "mark": {"type": "rect", "fill": "#111111"},
      "encoding": {
        "x": {"field": "d", "type": "temporal", "title": null},
        "x2": {"field": "d2"},
        "y": {"field": "p", "type": "quantitative", "title": null},
        "y2": {"field": "p2"}
      }
    },
    {
      "data": {"values": [{"d": "2018-08-23", "p": 0.5875, "t": "0.5875"}]},
      "mark": {"type": "text", "align": "center", "baseline": "middle", "fontSize": 6.5, "fontWeight": "bold", "color": "white"},
      "encoding": {
        "x": {"field": "d", "type": "temporal", "title": null},
        "y": {"field": "p", "type": "quantitative", "title": null},
        "text": {"field": "t"}
      }
    },
    {
      "data": {"values": [{"d": "2011-05-11", "p": 0.7494, "t": "AUSTRALIAN DOLLAR / POUND STERLING, W, FX_IDC"}]},
      "mark": {"type": "text", "align": "left", "baseline": "middle", "font": "Open Sans", "fontSize": 7.4, "color": "#555555"},
      "encoding": {
        "x": {"field": "d", "type": "temporal", "title": null},
        "y": {"field": "p", "type": "quantitative", "title": null},
        "text": {"field": "t"}
      }
    }
  ]
}
